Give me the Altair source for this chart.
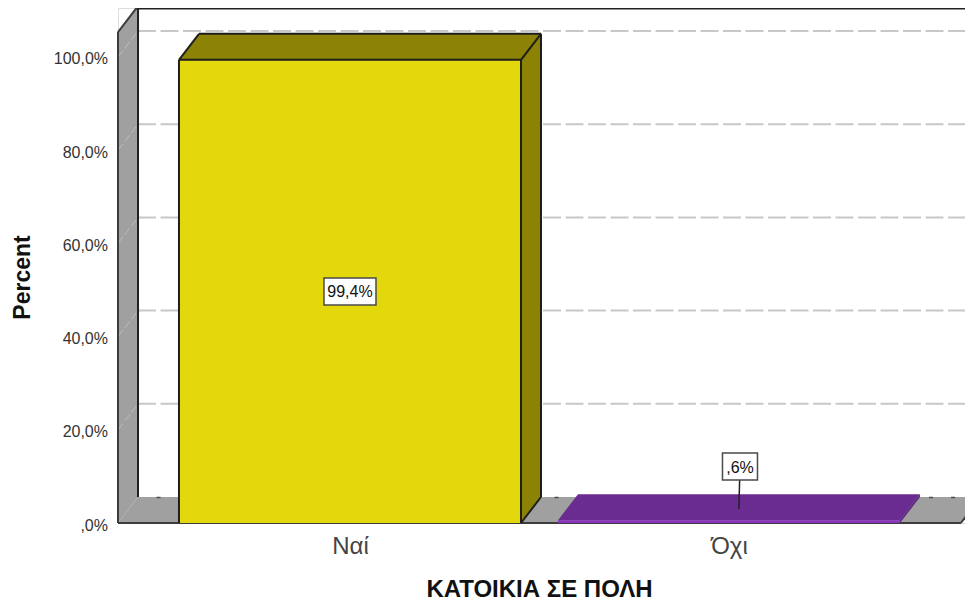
import altair as alt
import pandas as pd

# Data
CATEGORIES = ["Ναί", "Όχι"]
PERCENTS = [99.4, 0.6]
BAR_LABELS = ["99,4%", ",6%"]
TICKS = [0, 20, 40, 60, 80, 100]
LABEL_Y = [49.7, 12.1]
LABEL_X = [0.0, 1.029]
LEADER_END = [3.0]
FLOOR_MARKS_X = [-0.505, 0.545, 1.533, 1.591]

# Scale and pseudo-3D geometry (x in category units, y in percent)
X_DOMAIN = [-0.6121, 1.6227]
Y_DOMAIN = [0, 110.515]
DX, DY = 0.0528, 5.58
HALF = 0.4512
WALL_TOP = 105.36
WALL_L, FLOOR_R = X_DOMAIN[0], 1.612
TOP_LINE = 110.4
FONT = "Liberation Sans"

xs = alt.Scale(domain=X_DOMAIN, nice=False, zero=False)
ys = alt.Scale(domain=Y_DOMAIN, nice=False, zero=False)
X = alt.X(
    "x:Q",
    scale=xs,
    stack=None,
    axis=alt.Axis(
        values=[0, 1],
        title="ΚΑΤΟΙΚΙΑ ΣΕ ΠΟΛΗ",
        titleFont=FONT,
        titleFontSize=24,
        titleFontWeight="bold",
        titleColor="#111111",
        titleBaseline="middle",
        titleX=421,
        titleY=66,
        labelFont=FONT,
        labelFontSize=24,
        labelFontWeight=300,
        labelColor="#444444",
        labelPadding=11,
        labelExpr="datum.value == 0 ? '%s' : '%s'" % tuple(CATEGORIES),
        ticks=False,
        domain=False,
        grid=False,
    ),
)
Y = alt.Y(
    "y:Q",
    scale=ys,
    stack=None,
    axis=alt.Axis(
        values=TICKS,
        title="Percent",
        titleFont=FONT,
        titleFontSize=23,
        titleFontWeight="bold",
        titleColor="#111111",
        titleBaseline="middle",
        titleX=-96,
        titleY=269,
        titleAngle=270,
        labelFont=FONT,
        labelFontSize=16,
        labelColor="#333333",
        labelPadding=10.5,
        labelOffset=2,
        labelExpr="replace(datum.value == 0 ? ',0%' : format(datum.value, '.1f') + '%', '.', ',')",
        ticks=False,
        domain=False,
        grid=False,
    ),
)


def data(**k):
    return alt.Chart(pd.DataFrame(k))


def side(x0, v0, v1, fill):
    """Vertical-edged parallelogram going back in depth."""
    return data(x=[x0, x0 + DX], y=[v0, v0 + DY], y2=[v1, v1 + DY]).mark_area(
        fill=fill, opacity=1
    ).encode(x=X, y=Y, y2="y2:Q")


def flat(x0, x1, v, fill):
    """Horizontal-edged parallelogram going back in depth."""
    return data(y=[v, v + DY], x=[x0, x0 + DX], x2=[x1, x1 + DX]).mark_area(
        fill=fill, opacity=1, orient="horizontal"
    ).encode(x=X, x2="x2:Q", y=Y)


def rule(segs, color, width, dash=None):
    df = pd.DataFrame(segs, columns=["x", "y", "x2", "y2"])
    kw = {"strokeDash": dash} if dash else {}
    return alt.Chart(df).mark_rule(color=color, strokeWidth=width, **kw).encode(
        x=X, y=Y, x2="x2:Q", y2="y2:Q"
    )


def front(x0, x1, v, fill):
    return data(x=[x0], x2=[x1], y=[0], y2=[v]).mark_rect(fill=fill).encode(
        x=X, x2="x2:Q", y=Y, y2="y2:Q"
    )


WALL = "#a0a0a0"
EDGE = "#1e1e1e"
YELLOW, OLIVE = "#e3d80c", "#8c8306"
PURPLE_TOP, PURPLE_FRONT, PURPLE_SIDE = "#6a2c91", "#8a35bf", "#5a2a7c"

# Walls and grid
left_wall = side(WALL_L, 0, WALL_TOP, WALL)
floor = flat(WALL_L, FLOOR_R, 0, WALL)
grid = rule(
    [[WALL_L + DX, t + DY, 2.0, t + DY] for t in TICKS[1:]], "#c8c8c8", 2, [18, 4.5]
)
wall_grid = rule(
    [[WALL_L, t, WALL_L + DX, t + DY] for t in TICKS[1:]], "#bdbdbd", 1, [8, 3]
)
floor_marks = alt.Chart(pd.DataFrame({"x": FLOOR_MARKS_X, "y": [DY - 0.1] * 4})).mark_tick(
    orient="horizontal", size=4, thickness=1.5, color="#222222"
).encode(x=X, y=Y)
frame = rule(
    [
        [WALL_L + DX, DY, WALL_L + DX, TOP_LINE],
        [WALL_L + DX * 0.9, TOP_LINE, 2.0, TOP_LINE],
    ],
    "#222222",
    2,
)
wall_edges = rule(
    [
        [WALL_L, 0, WALL_L, WALL_TOP],
        [WALL_L, WALL_TOP, WALL_L + DX, WALL_TOP + DY],
        [WALL_L, 0, FLOOR_R, 0],
        [FLOOR_R, 0, FLOOR_R + DX, DY],
    ],
    "#3c3c3c",
    2,
)

# Bars
L0, R0 = 0 - HALF, 0 + HALF
L1, R1 = 1 - HALF, 1 + HALF
v0, v1 = PERCENTS
yellow = [
    side(R0, 0, v0, OLIVE),
    flat(L0, R0, v0, OLIVE),
    front(L0, R0, v0, YELLOW),
    rule(
        [
            [L0, 0, L0, v0],
            [R0, 0, R0, v0],
            [L0, v0, R0, v0],
            [L0, v0, L0 + DX, v0 + DY],
            [R0, v0, R0 + DX, v0 + DY],
            [L0 + DX, v0 + DY, R0 + DX, v0 + DY],
            [R0 + DX, DY, R0 + DX, v0 + DY],
            [R0, 0, R0 + DX, DY],
        ],
        EDGE,
        2,
    ),
]
purple = [
    side(R1, 0, v1, PURPLE_SIDE),
    flat(L1, R1, v1, PURPLE_TOP),
    front(L1, R1, v1, PURPLE_FRONT),
]

# Value labels
leader = rule(
    [[LABEL_X[1], LABEL_Y[1], LABEL_X[1] - 0.003, LEADER_END[0]]], "#222222", 1.5
)
boxes = [
    data(x=[LABEL_X[i]], y=[LABEL_Y[i]]).mark_rect(
        width=w, height=27, fill="white", stroke="#4a4a4a", strokeWidth=1.5
    ).encode(x=X, y=Y)
    for i, w in enumerate([52, 35])
]
texts = data(x=LABEL_X, y=LABEL_Y, t=BAR_LABELS).mark_text(
    font=FONT, fontSize=16, color="#111111", align="center", baseline="middle", dy=1
).encode(x=X, y=Y, text="t:N")

chart = alt.layer(
    left_wall,
    floor,
    wall_grid,
    grid,
    floor_marks,
    frame,
    wall_edges,
    *yellow,
    *purple,
    leader,
    *boxes,
    texts,
).properties(
    width=847,
    height=515,
    padding={"left": 110, "right": 0, "top": 0, "bottom": 78},
    autosize=alt.AutoSizeParams(type="none"),
).configure_view(stroke=None).configure(background="white")

chart.save("out.html", embed_options={"renderer": "svg", "actions": False})
